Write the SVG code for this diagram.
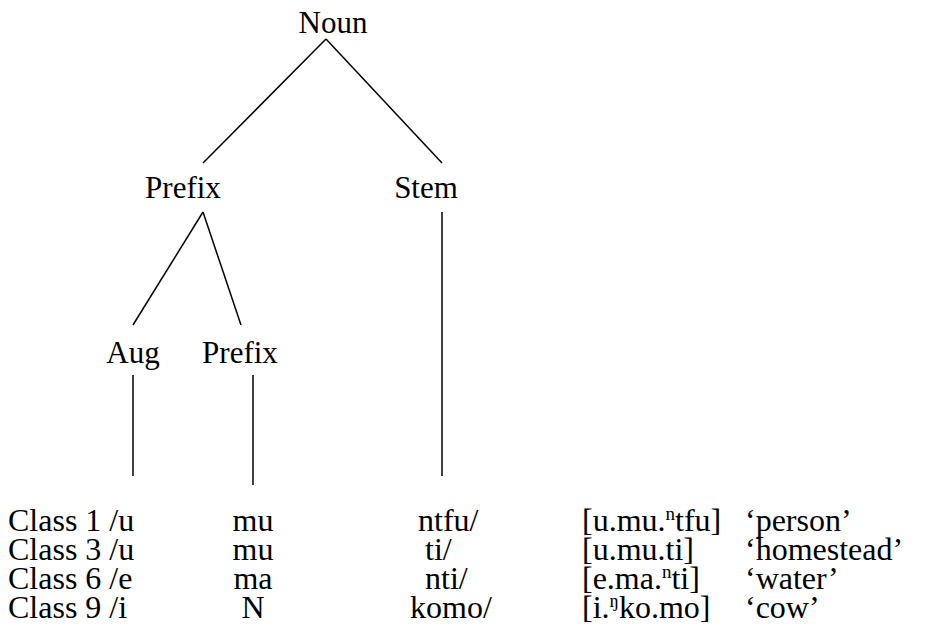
<svg xmlns="http://www.w3.org/2000/svg" width="933" height="639" viewBox="0 0 933 639">
<style>
text { font-family: "Liberation Serif", "Times New Roman", serif; font-size: 31px; fill: #000; }
#table text { font-size: 32px; }
.c { text-anchor: middle; }
#table .sup { font-size: 19px; }
line { stroke: #000; stroke-width: 1.5; }
</style>
<rect width="933" height="639" fill="#fff"/>
<g id="connectors">
<line x1="326" y1="39" x2="203" y2="163"/>
<line x1="326" y1="39" x2="442" y2="163"/>
<line x1="203" y1="212" x2="133" y2="325"/>
<line x1="203" y1="212" x2="241" y2="325"/>
<line x1="442" y1="212" x2="442" y2="476"/>
<line x1="133" y1="375" x2="133" y2="476"/>
<line x1="253" y1="375" x2="253" y2="485"/>
</g>
<g id="node-noun"><text class="c" x="333" y="33">Noun</text></g>
<g id="node-prefix"><text class="c" x="183" y="198">Prefix</text></g>
<g id="node-stem"><text class="c" x="426" y="198">Stem</text></g>
<g id="node-aug"><text class="c" x="133" y="363">Aug</text></g>
<g id="node-prefix2"><text class="c" x="240" y="363">Prefix</text></g>
<g id="table">
<text x="8" y="531">Class 1 /u</text>
<text x="8" y="560">Class 3 /u</text>
<text x="8" y="589">Class 6 /e</text>
<text x="8" y="618">Class 9 /i</text>
<text class="c" x="253" y="531">mu</text>
<text class="c" x="253" y="560">mu</text>
<text class="c" x="253" y="589">ma</text>
<text class="c" x="253" y="618">N</text>
<text x="418" y="531">ntfu/</text>
<text x="425" y="560">ti/</text>
<text x="425" y="589">nti/</text>
<text x="410" y="618">komo/</text>
<text x="582" y="531">[u.mu.<tspan class="sup" dy="-11">n</tspan><tspan dy="11">tfu]</tspan></text>
<text x="582" y="560">[u.mu.ti]</text>
<text x="582" y="589">[e.ma.<tspan class="sup" dy="-11">n</tspan><tspan dy="11">ti]</tspan></text>
<text x="582" y="618">[i.<tspan class="sup" dy="-11">ŋ</tspan><tspan dy="11">ko.mo]</tspan></text>
<text x="745" y="531">‘person’</text>
<text x="745" y="560">‘homestead’</text>
<text x="745" y="589">‘water’</text>
<text x="745" y="618">‘cow’</text>
</g>
</svg>
